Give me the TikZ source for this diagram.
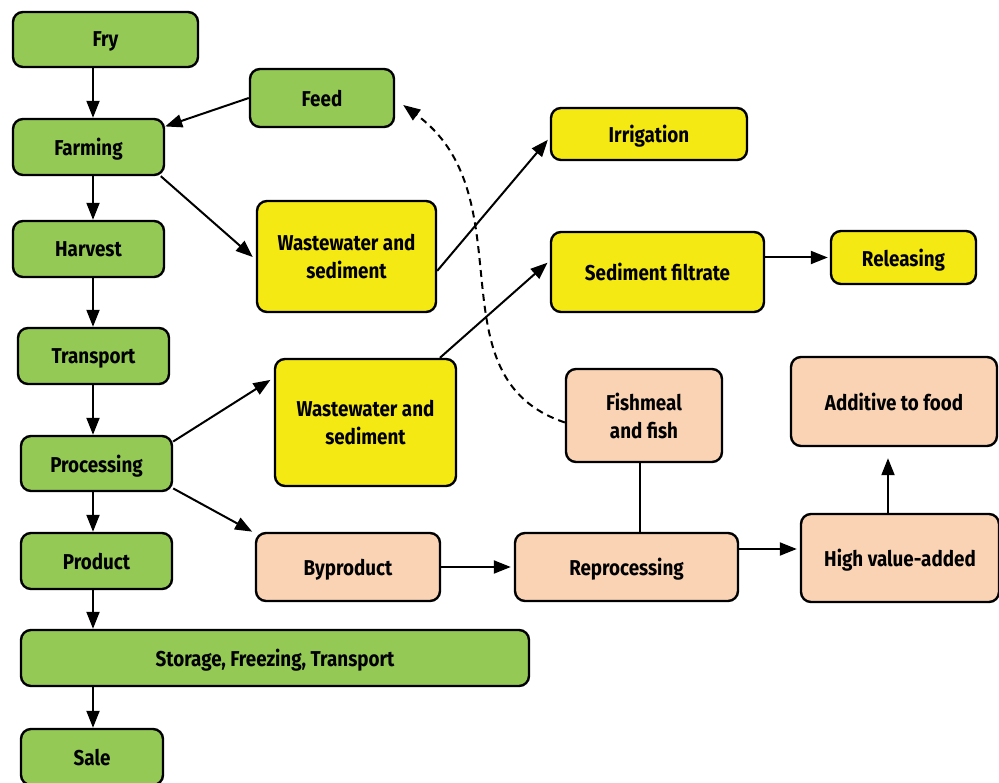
\documentclass[tikz,border=0pt]{standalone}
\usepackage{fontspec}
\setmainfont{Fira Sans}[FakeStretch=0.875]
\usepackage{xcolor}
\usetikzlibrary{arrows.meta}
\definecolor{grn}{HTML}{94C955}
\definecolor{ylw}{HTML}{F5E914}
\definecolor{pch}{HTML}{F9D3B4}
\tikzset{
  box/.style={draw, line width=2.4pt, rounded corners=10pt, align=center, inner sep=0pt,
    text depth=0pt, font=\bfseries\fontsize{21.5}{28}\selectfont},
  gbox/.style={box, fill=grn},
  ybox/.style={box, fill=ylw},
  pbox/.style={box, fill=pch},
  arr/.style={-{Triangle[length=17pt,width=13pt]}, line width=2pt},
  dsh/.style={arr, dash pattern=on 7pt off 5pt},
}
\begin{document}
\begin{tikzpicture}[x=1pt,y=-1pt]
\useasboundingbox (0,0) rectangle (999,783);
\coordinate (col) at (93,0);
\node[gbox, minimum width=185, minimum height=55] (fry) at (105.5,39.5) {Fry};
\node[gbox, minimum width=151, minimum height=56] (farm) at (88.5,147) {Farming};
\node[gbox, minimum width=151, minimum height=56] (harv) at (88.5,249) {Harvest};
\node[gbox, minimum width=151, minimum height=56] (trans) at (93.5,356) {Transport};
\node[gbox, minimum width=151, minimum height=55] (proc) at (96.5,463.5) {Processing};
\node[gbox, minimum width=151, minimum height=56] (prod) at (96.5,561) {Product};
\node[gbox, minimum width=508, minimum height=56] (store) at (275,658) {Storage, Freezing, Transport};
\node[gbox, minimum width=142, minimum height=56] (sale) at (92,757) {Sale};
\node[gbox, minimum width=144, minimum height=58] (feed) at (322,98) {Feed};
\node[ybox, minimum width=179, minimum height=111] (wwa) at (346.5,256.5) {Wastewater and\\sediment};
\node[ybox, minimum width=181, minimum height=127] (wwb) at (365.5,422.5) {Wastewater and\\sediment};
\node[ybox, minimum width=196, minimum height=52] (irr) at (649,134) {Irrigation};
\node[ybox, minimum width=213, minimum height=80] (filt) at (657.5,272) {Sediment filtrate};
\node[ybox, minimum width=145, minimum height=53] (rel) at (903.5,257.5) {Releasing};
\node[pbox, minimum width=156, minimum height=93] (fish) at (644,415.5) {Fishmeal\\and fish};
\node[pbox, minimum width=206, minimum height=89] (add) at (894,401.5) {Additive to food};
\node[pbox, minimum width=184, minimum height=68] (byp) at (348,567) {Byproduct};
\node[pbox, minimum width=223, minimum height=68] (repr) at (626.5,567) {Reprocessing};
\node[pbox, minimum width=198, minimum height=88] (high) at (900,558) {High value-added};
\draw[arr] (fry.south -| col) -- (farm.north -| col);
\draw[arr] (farm.south -| col) -- (harv.north -| col);
\draw[arr] (harv.south -| col) -- (trans.north -| col);
\draw[arr] (trans.south -| col) -- (proc.north -| col);
\draw[arr] (proc.south -| col) -- (prod.north -| col);
\draw[arr] (prod.south -| col) -- (store.north -| col);
\draw[arr] (store.south -| col) -- (sale.north -| col);
\draw[arr] (feed.west) -- (farm.15);
\draw[arr, shorten >=4pt] (farm.-22) -- (wwa.182);
\draw[arr, shorten >=3pt] (wwa.-9) -- (irr.182);
\draw[arr, shorten >=3pt] (wwb.41) -- (filt.174);
\draw[arr, shorten >=2pt] (filt.east |- rel.west) -- (rel.west);
\draw[arr, shorten >=4pt] (proc.16) -- (wwb.154);
\draw[arr, shorten >=3pt] (proc.-18) -- (byp.160);
\draw[arr, shorten >=3pt] (byp.east) -- (repr.west);
\draw[arr, shorten >=3pt] ([yshift=18pt]repr.east) -- ([yshift=18pt]repr.east -| high.west);
\draw[line width=2pt] ([xshift=-4pt]fish.south) -- ([xshift=-4pt]fish.south |- repr.north);
\draw[arr, shorten >=11pt] ([xshift=-12pt]high.north) -- ([xshift=-12pt]high.north |- add.south);
\draw[dsh] (fish.185) .. controls +(-135,-45) and +(125,92) .. ([xshift=8pt,yshift=-7pt]feed.east);
\end{tikzpicture}
\end{document}
